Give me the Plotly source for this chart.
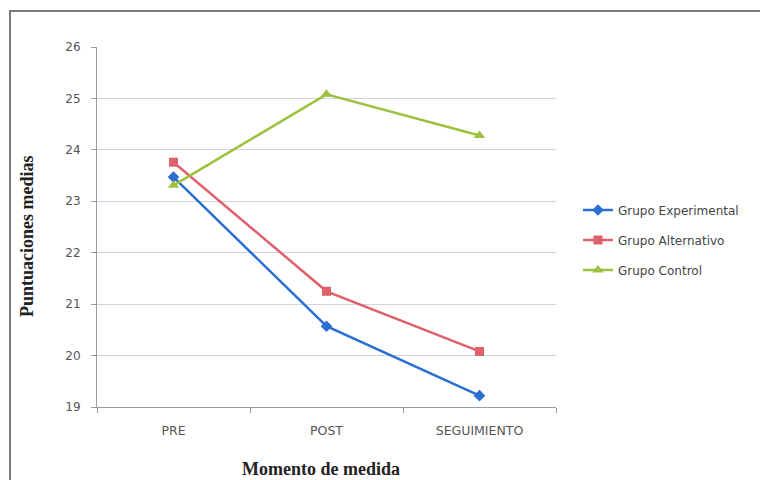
import plotly.graph_objects as go

# Mean scores by measurement moment for each group
momentos = ["PRE", "POST", "SEGUIMIENTO"]
grupo_experimental = [23.47, 20.57, 19.22]
grupo_alternativo = [23.76, 21.25, 20.08]
grupo_control = [23.31, 25.08, 24.28]

y_ticks = [19, 20, 21, 22, 23, 24, 25, 26]

W, H = 760, 480
L, R, T, B = 97, 204, 47, 73
PW, PH = W - L - R, H - T - B


def px_x(x):
    return (x - L) / PW


def px_y(y):
    return (H - B - y) / PH


series = [
    ("Grupo Experimental", grupo_experimental, "#2C6FD3", "diamond", 9),
    ("Grupo Alternativo", grupo_alternativo, "#E0606B", "square", 9),
    ("Grupo Control", grupo_control, "#9DC23F", "triangle-up", 10),
]

fig = go.Figure()
for i, (name, vals, color, symbol, size) in enumerate(series):
    fig.add_trace(go.Scatter(
        x=momentos, y=vals, name=name, mode="lines+markers",
        line=dict(color=color, width=2.5),
        marker=dict(symbol=symbol, size=size, color=color),
        legendgroup=str(i),
    ))

tick_font = dict(family="DejaVu Sans", size=12, color="#555555")

fig.update_layout(
    width=W, height=H,
    margin=dict(l=L, r=R, t=T, b=B, autoexpand=False),
    paper_bgcolor="white", plot_bgcolor="white",
    showlegend=True,
    legend=dict(
        x=px_x(578), y=px_y(240), xanchor="left", yanchor="middle",
        font=dict(family="DejaVu Sans", size=12, color="#444444"),
        traceorder="grouped", tracegroupgap=11,
        itemwidth=30, bgcolor="rgba(0,0,0,0)",
    ),
    xaxis=dict(
        type="category", range=[-0.5, 2.5],
        showgrid=False, showline=True, linecolor="#9a9aa8", linewidth=1,
        ticks="outside", ticklen=5, tickcolor="#9a9aa8", tickson="boundaries",
        tickfont=dict(family="DejaVu Sans", size=12.5, color="#555555"),
        ticklabelstandoff=12, zeroline=False,
    ),
    yaxis=dict(
        range=[19, 26], tickvals=y_ticks,
        showgrid=True, gridcolor="#D3D3DF", gridwidth=1,
        showline=True, linecolor="#9a9aa8", linewidth=1,
        ticks="outside", ticklen=5, tickcolor="#9a9aa8",
        tickfont=tick_font, ticklabelstandoff=8, zeroline=False,
    ),
    shapes=[dict(
        type="rect", xref="paper", yref="paper",
        x0=px_x(10), x1=px_x(800), y0=px_y(520), y1=px_y(11),
        line=dict(color="#7a7a7a", width=2), fillcolor="rgba(0,0,0,0)",
        layer="below",
    )],
    annotations=[
        dict(text="<b>Momento de medida</b>", xref="paper", yref="paper",
             x=px_x(321), y=px_y(469), xanchor="center", yanchor="middle",
             showarrow=False,
             font=dict(family="Liberation Serif", size=18, color="#222222")),
        dict(text="<b>Puntuaciones medias</b>", xref="paper", yref="paper",
             x=px_x(27), y=px_y(236), xanchor="center", yanchor="middle",
             textangle=-90, showarrow=False,
             font=dict(family="Liberation Serif", size=18, color="#222222")),
    ],
)

fig.write_html("out.html")
